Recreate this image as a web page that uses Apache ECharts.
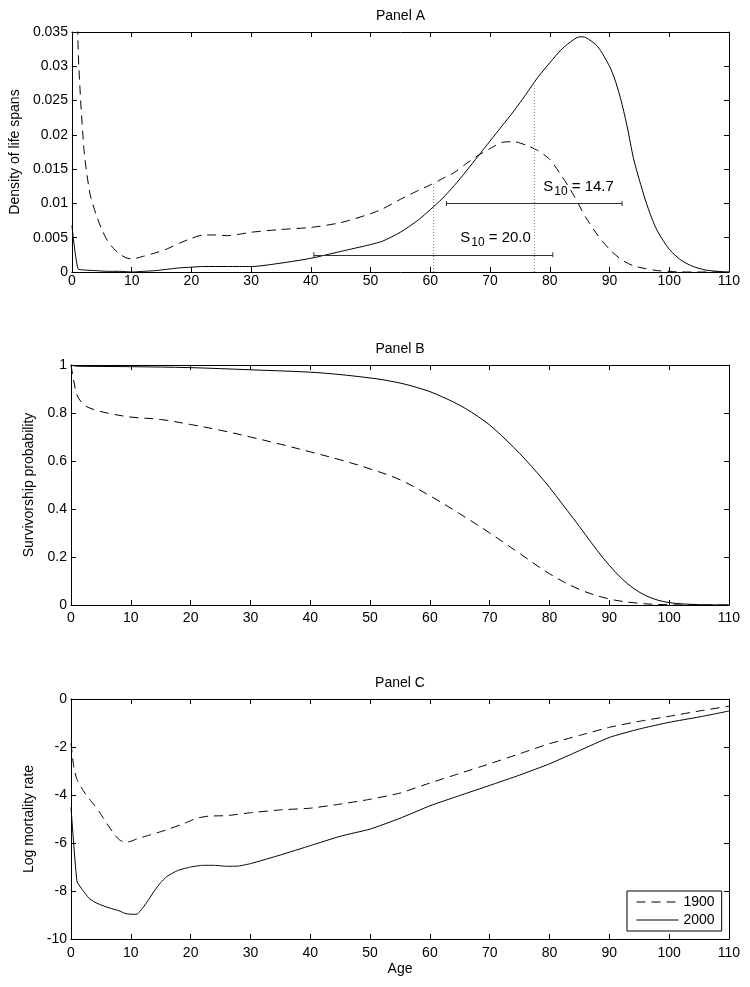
<!DOCTYPE html>
<html>
<head>
<meta charset="utf-8">
<script src="https://cdn.jsdelivr.net/npm/echarts@6/dist/echarts.min.js"></script>
<style>
html,body{margin:0;padding:0;background:#fff;}
#chart{width:750px;height:987px;}
</style>
</head>
<body>
<div id="chart"></div>
<script>
// ---------------- DATA ----------------
const xTicks = [0, 110, 10]; // min, max, interval (ages)

// Panel A: density of life spans
const agesA1900 = [0,1,2,3,4,5,6,7,8,9,10,12,14,16,18,20,22,24,26,28,30,35,40,45,50,52,55,58,60,62,64,66,68,70,72,74,76,78,80,82,84,86,88,90,92,94,96,98,100,102,110];
const densA1900 = [0.13,0.034,0.018,0.0115,0.0085,0.0062,0.0045,0.0034,0.0026,0.0021,0.0019,0.0023,0.0028,0.0034,0.0042,0.0049,0.0054,0.0054,0.0053,0.0055,0.0058,0.0062,0.0065,0.0072,0.0085,0.0092,0.0106,0.0119,0.0127,0.0136,0.0145,0.0158,0.0170,0.0180,0.0189,0.0190,0.0185,0.0177,0.0164,0.0140,0.0112,0.0080,0.0054,0.0033,0.0018,0.0009,0.0005,0.0002,0.0001,0,0];
const agesA2000 = [0,1,2,4,6,8,10,12,14,16,18,20,22,26,30,35,40,45,50,52,55,58,60,62,64,66,68,70,72,74,76,78,80,82,84,85,86,88,90,91,92,93,94,95,96,97,98,100,102,104,106,108,110];
const densA2000 = [0.0068,0.0005,0.0003,0.0002,0.0001,0.0001,0.0000,0.0001,0.0002,0.0004,0.0006,0.0007,0.0008,0.0008,0.0008,0.0013,0.0020,0.0030,0.0040,0.0045,0.0058,0.0076,0.0091,0.0107,0.0126,0.0147,0.0169,0.0191,0.0213,0.0235,0.0259,0.0284,0.0305,0.0325,0.0339,0.0343,0.0342,0.0329,0.0300,0.0278,0.0248,0.0210,0.0166,0.0134,0.0105,0.0080,0.0060,0.0033,0.0017,0.0008,0.0003,0.0001,0];

// Panel A annotations (S10 spreads)
const s10Labels = ['20.0', '14.7'];
const s10Centers = [60.5, 77.4];
const s10Half = [20.0, 14.7];
const s10BarLevels = [0.0025, 0.01];
const s10DotTops = [0.0128, 0.0277];
const s10TextAges = [65.0, 78.9];
const s10TextLevels = [0.0050, 0.0124];

// Panel B: survivorship
const agesB1900 = [0,0.5,1,2,3,5,7,10,15,20,25,30,35,40,45,50,55,60,65,70,75,80,85,90,95,100,105,110];
const survB1900 = [1,0.93,0.875,0.838,0.822,0.806,0.795,0.783,0.773,0.752,0.728,0.70,0.67,0.638,0.605,0.567,0.522,0.455,0.38,0.30,0.215,0.13,0.065,0.025,0.007,0.001,0,0];
const agesB2000 = [0,1,5,10,20,30,40,45,50,52,54,56,58,60,62,64,66,68,70,72,74,76,78,80,82,84,86,88,90,92,94,96,98,100,102,105,110];
const survB2000 = [1,0.995,0.994,0.993,0.989,0.98,0.97,0.96,0.946,0.939,0.93,0.919,0.905,0.889,0.868,0.845,0.818,0.786,0.75,0.705,0.657,0.605,0.549,0.49,0.425,0.36,0.293,0.226,0.165,0.112,0.07,0.04,0.021,0.01,0.005,0.0015,0];

// Panel C: log mortality
const agesC1900 = [0,0.5,1,2,3,4,5,6,7,8,9,10,11,13,16,19,21,23,26,30,35,40,45,50,55,60,65,70,75,80,85,90,95,100,105,110];
const logC1900 = [-1.85,-2.9,-3.35,-3.8,-4.15,-4.45,-4.8,-5.2,-5.55,-5.85,-5.97,-5.93,-5.83,-5.68,-5.45,-5.18,-4.97,-4.88,-4.86,-4.74,-4.62,-4.55,-4.38,-4.18,-3.92,-3.5,-3.1,-2.7,-2.28,-1.86,-1.52,-1.18,-0.93,-0.72,-0.5,-0.3];
const agesC2000 = [0,1,2,3,4,5,6,7,8,9,10,11,12,13,14,15,16,17,18,20,22,24,26,28,30,35,40,45,50,55,60,65,70,75,80,85,90,95,100,105,110];
const logC2000 = [-4.5,-7.6,-7.98,-8.3,-8.47,-8.58,-8.67,-8.75,-8.82,-8.93,-8.97,-8.97,-8.7,-8.35,-7.97,-7.65,-7.4,-7.25,-7.13,-7.0,-6.93,-6.93,-6.97,-6.96,-6.86,-6.5,-6.11,-5.72,-5.42,-4.97,-4.45,-4.02,-3.6,-3.17,-2.7,-2.15,-1.6,-1.25,-0.97,-0.75,-0.5];

const yRanges = [[0, 0.035, 0.005], [0, 1, 0.2], [-10, 0, 2]];
const panelTitles = ['Panel A', 'Panel B', 'Panel C'];
const yNames = ['Density of life spans', 'Survivorship probability', 'Log mortality rate'];
const seriesNames = ['1900', '2000'];

// ---------------- CHART ----------------
const FONT = '"Liberation Sans", Arial, Helvetica, sans-serif';
const zip = (xs, ys) => xs.map((x, i) => [x, ys[i]]);

const grids = [
  {left: 71, right: 21, top: 32, height: 240},
  {left: 71, right: 21, top: 365, height: 240},
  {left: 71, right: 21, top: 699, height: 240}
];
const xLabelMargins = [2, 6, 7];
const yNameGaps = [47, 31, 34];
const smoothing = [0.25, 0.35, 0.15];

const axisLine = {show: true, onZero: false, lineStyle: {color: '#000', width: 1}};
const axisTick = {show: true, inside: true, length: 5, lineStyle: {color: '#000', width: 1}};

const xAxis = [], yAxis = [];
grids.forEach((g, i) => {
  const base = {type: 'value', gridIndex: i, min: xTicks[0], max: xTicks[1], interval: xTicks[2],
    axisLine, axisTick, splitLine: {show: false}};
  xAxis.push(Object.assign({}, base, {
    position: 'bottom',
    axisLabel: {show: true, color: '#000', fontSize: 14, fontFamily: FONT, margin: xLabelMargins[i]},
    name: i === 2 ? 'Age' : '', nameLocation: 'middle', nameGap: 23,
    nameTextStyle: {color: '#000', fontSize: 14, fontFamily: FONT}
  }));
  xAxis.push(Object.assign({}, base, {
    position: 'top', axisLabel: {show: false},
    name: panelTitles[i], nameLocation: 'middle', nameGap: 9,
    nameTextStyle: {color: '#000', fontSize: 14, fontFamily: FONT}
  }));
  const yb = {type: 'value', gridIndex: i, min: yRanges[i][0], max: yRanges[i][1], interval: yRanges[i][2],
    axisLine, axisTick, splitLine: {show: false}};
  yAxis.push(Object.assign({}, yb, {
    position: 'left',
    axisLabel: {show: true, color: '#000', fontSize: 14, fontFamily: FONT, margin: 4},
    name: yNames[i], nameLocation: 'middle', nameGap: yNameGaps[i], nameRotate: 90,
    nameTextStyle: {color: '#000', fontSize: 14, fontFamily: FONT}
  }));
  yAxis.push(Object.assign({}, yb, {position: 'right', axisLabel: {show: false}}));
});

const dashStyle = {color: '#000', width: 1, type: [9, 6]};
const solidStyle = {color: '#000', width: 1, type: 'solid'};

function line(name, data, gi, style) {
  return {
    name, type: 'line', data, xAxisIndex: gi * 2, yAxisIndex: gi * 2,
    symbol: 'none', showSymbol: false, silent: true, clip: true,
    lineStyle: style, itemStyle: {color: '#000'},
    smooth: smoothing[gi] || false
  };
}

const annoLineStyle = {color: '#333', width: 1, type: 'solid'};
const dotStyle = {color: '#8a8a8a', width: 1, type: [1, 2]};
const markLineData = [];
for (let k = 0; k < 2; k++) {
  markLineData.push([
    {coord: [s10Centers[k] - s10Half[k], s10BarLevels[k]], symbol: 'rect', symbolSize: [5, 1], lineStyle: annoLineStyle},
    {coord: [s10Centers[k] + s10Half[k], s10BarLevels[k]], symbol: 'rect', symbolSize: [5, 1]}
  ]);
  markLineData.push([
    {coord: [s10Centers[k], 0], symbol: 'none', lineStyle: dotStyle},
    {coord: [s10Centers[k], s10DotTops[k]], symbol: 'none'}
  ]);
}
const markPointData = s10Labels.map((lab, k) => ({
  coord: [s10TextAges[k], s10TextLevels[k]],
  label: {formatter: '{a|S}{b|10}{a| = ' + lab + '}'}
}));

const seriesA1900 = line(seriesNames[0], zip(agesA1900, densA1900), 0, dashStyle);
seriesA1900.markLine = {silent: true, animation: false, symbol: ['none', 'none'], label: {show: false},
  itemStyle: {color: '#333'}, lineStyle: annoLineStyle, data: markLineData};
seriesA1900.markPoint = {silent: true, animation: false, symbol: 'circle', symbolSize: 0,
  itemStyle: {color: 'transparent'},
  label: {show: true, position: 'right', distance: 0, color: '#000', fontFamily: FONT,
    rich: {
      a: {fontSize: 15, color: '#000', fontFamily: FONT},
      b: {fontSize: 12, color: '#000', fontFamily: FONT, padding: [10, 0, 0, 1]}
    }},
  data: markPointData};

const series = [
  seriesA1900,
  line(seriesNames[1], zip(agesA2000, densA2000), 0, solidStyle),
  line(seriesNames[0], zip(agesB1900, survB1900), 1, dashStyle),
  line(seriesNames[1], zip(agesB2000, survB2000), 1, solidStyle),
  line(seriesNames[0], zip(agesC1900, logC1900), 2, dashStyle),
  line(seriesNames[1], zip(agesC2000, logC2000), 2, solidStyle)
];

const chart = echarts.init(document.getElementById('chart'), null, {renderer: 'canvas'});
chart.setOption({
  animation: false,
  backgroundColor: '#fff',
  textStyle: {fontFamily: FONT},
  grid: grids,
  xAxis, yAxis,
  legend: {
    data: seriesNames, orient: 'vertical', left: 627, top: 891,
    padding: [4, 7, 4, 9], itemGap: 4, itemWidth: 42, itemHeight: 14,
    borderColor: '#000', borderWidth: 1, backgroundColor: '#fff', borderRadius: 0,
    selectedMode: false,
    itemStyle: {opacity: 0},
    lineStyle: {opacity: 1, width: 1},
    textStyle: {color: '#000', fontSize: 14, fontFamily: FONT}
  },
  series
});
</script>
</body>
</html>
